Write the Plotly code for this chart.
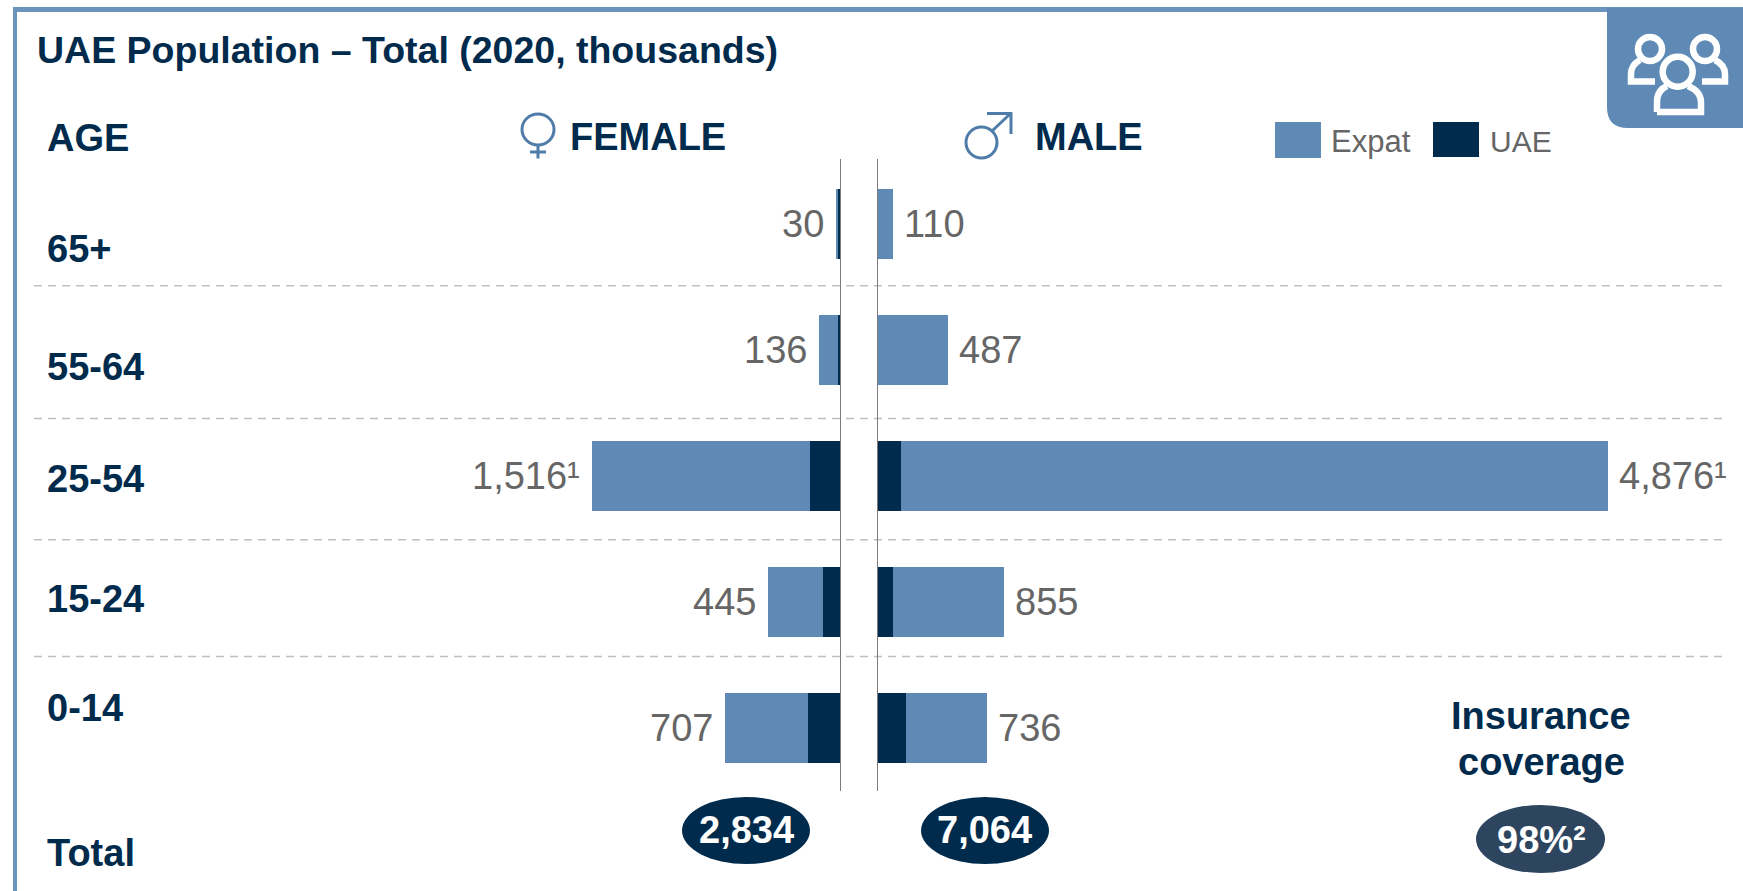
import plotly.graph_objects as go

AGES = ["0-14", "15-24", "25-54", "55-64", "65+"]
FEMALE_UAE = [200, 110, 187, 18, 24]
FEMALE_EXPAT = [507, 335, 1329, 118, 6]
MALE_UAE = [190, 107, 160, 6, 4]
MALE_EXPAT = [540, 738, 4716, 468, 102]
FEMALE_LABELS = ["707", "445", "1,516\u00b9", "136", "30"]
MALE_LABELS = ["736", "855", "4,876\u00b9", "487", "110"]
AGE_LABEL_Y = {"65+": 249, "55-64": 367, "25-54": 479, "15-24": 599, "0-14": 708}
TITLE = "UAE Population \u2013 Total (2020, thousands)"
TOTAL_FEMALE = "2,834"
TOTAL_MALE = "7,064"
COVERAGE = "98%\u00b2"

W, H = 1743, 891
BLUE = "#5F8AB5"
NAVY = "#012B4C"
GREY = "#666666"
FONT = "Liberation Sans"
AXIS_L, AXIS_R = 841.0, 877.0
SCALE_L, SCALE_R = 0.164, 0.15


def px(x):
    return x / W


def py(y):
    return 1 - y / H


def text(x, y, s, size=38, bold=True, color=NAVY, anchor="left"):
    return dict(
        x=px(x), y=py(y), xref="paper", yref="paper", text=f"<b>{s}</b>" if bold else s,
        showarrow=False, xanchor=anchor, yanchor="middle", borderpad=0, borderwidth=0,
        font=dict(family=FONT, size=size, color=color),
    )


def rect(x0, y0, x1, y1, color):
    return dict(type="rect", xref="paper", yref="paper", x0=px(x0), x1=px(x1),
                y0=py(y1), y1=py(y0), fillcolor=color, line_width=0, layer="above")


def oval(x0, y0, x1, y1, fill=None, line=None, width=0):
    return dict(type="circle", xref="paper", yref="paper", x0=px(x0), x1=px(x1),
                y0=py(y1), y1=py(y0), fillcolor=fill or "rgba(0,0,0,0)",
                line=dict(color=line or "rgba(0,0,0,0)", width=width), layer="above")


def path(points, color, width, fill=None):
    parts = []
    for p in points:
        if isinstance(p, str):
            parts.append(p)
        else:
            parts.append(f"{px(p[0]):.5f},{py(p[1]):.5f}")
    return dict(type="path", xref="paper", yref="paper", path=" ".join(parts),
                line=dict(color=color, width=width), fillcolor=fill or "rgba(0,0,0,0)",
                layer="above")


fig = go.Figure()
fig.add_bar(y=AGES, x=FEMALE_UAE, orientation="h", name="UAE", marker_color=NAVY,
            marker_line_width=0, xaxis="x", yaxis="y", width=0.56)
fig.add_bar(y=AGES, x=FEMALE_EXPAT, orientation="h", name="Expat", marker_color=BLUE,
            marker_line_width=0, xaxis="x", yaxis="y", width=0.56)
fig.add_bar(y=AGES, x=MALE_UAE, orientation="h", name="UAE", marker_color=NAVY,
            marker_line_width=0, xaxis="x2", yaxis="y", width=0.56)
fig.add_bar(y=AGES, x=MALE_EXPAT, orientation="h", name="Expat", marker_color=BLUE,
            marker_line_width=0, xaxis="x2", yaxis="y", width=0.56)

annotations = [
    text(37, 50, TITLE, size=37.5),
    text(47, 138, "AGE"),
    text(570, 137, "FEMALE"),
    text(1035, 137, "MALE"),
    text(47, 853, "Total"),
    text(1331, 142, "Expat", size=31, bold=False, color=GREY),
    text(1490, 142, "UAE", size=30, bold=False, color=GREY),
    text(1541, 716, "Insurance", anchor="center"),
    text(1541, 762, "coverage", anchor="center"),
    text(746, 830, TOTAL_FEMALE, color="white", anchor="center"),
    text(985, 830, TOTAL_MALE, color="white", anchor="center"),
    text(1541, 840, COVERAGE, color="white", anchor="center"),
]
for age, y in AGE_LABEL_Y.items():
    annotations.append(text(47, y, age))
for age, uae, expat, label in zip(AGES, FEMALE_UAE, FEMALE_EXPAT, FEMALE_LABELS):
    annotations.append(dict(x=uae + expat, y=age, xref="x", yref="y", text=label, showarrow=False,
                            xanchor="right", yanchor="middle", xshift=-10,
                            font=dict(family=FONT, size=38, color=GREY)))
for age, uae, expat, label in zip(AGES, MALE_UAE, MALE_EXPAT, MALE_LABELS):
    annotations.append(dict(x=uae + expat, y=age, xref="x2", yref="y", text=label, showarrow=False,
                            xanchor="left", yanchor="middle", xshift=9,
                            font=dict(family=FONT, size=38, color=GREY)))

shapes = []
# panel frame and tab
shapes.append(rect(13, 7, 17, H, "#6A94BC"))
shapes.append(rect(13, 7, W, 12, "#6A94BC"))
shapes.append(path(["M", (1607, 8), "L", (W, 8), "L", (W, 128), "L", (1628, 128),
                    "Q", (1607, 128), (1607, 107), "Z"], BLUE, 0, BLUE))
# people icon
WHITE = "white"
shapes.append(oval(1638, 37, 1662, 61, line=WHITE, width=6.5))
shapes.append(oval(1693, 37, 1717, 61, line=WHITE, width=6.5))
shapes.append(oval(1662.7, 56.7, 1692.7, 86.7, line=WHITE, width=6.5))
shapes.append(path(["M", (1655, 81.5), "L", (1631, 81.5), "L", (1631, 74),
                    "Q", (1631, 65), (1640, 60)], WHITE, 6.5))
shapes.append(path(["M", (1702, 81.5), "L", (1725, 81.5), "L", (1725, 74),
                    "Q", (1725, 65), (1715, 60)], WHITE, 6.5))
shapes.append(path(["M", (1657, 112), "L", (1701, 112), "L", (1701, 102),
                    "C", (1701, 94), (1695, 89), (1688, 86),
                    "M", (1667, 86), "C", (1660, 89), (1657, 94), (1657, 102), "L", (1657, 112)],
                   WHITE, 6.5))
# female symbol
SYM = "#4F7CA8"
shapes.append(oval(522, 114, 554, 145, line=SYM, width=3))
shapes.append(path(["M", (538, 145), "L", (538, 158.5), "M", (530, 152), "L", (546, 152)], SYM, 3))
# male symbol
shapes.append(oval(966, 127, 997, 158, line=SYM, width=3))
shapes.append(path(["M", (992, 131), "L", (1010, 114), "M", (987, 113.5), "L", (1011, 113.5),
                    "L", (1011, 134)], SYM, 3))
# legend swatches
shapes.append(rect(1275, 122, 1321, 158, BLUE))
shapes.append(rect(1433, 122, 1479, 157, NAVY))
# ovals
shapes.append(oval(682, 797, 810, 864, fill=NAVY))
shapes.append(oval(921, 797, 1049, 864, fill=NAVY))
shapes.append(oval(1476, 805, 1605, 873, fill="#2E4560"))
# dashed separators
for y in (285.7, 418.5, 539.7, 656.4):
    shapes.append(dict(type="line", xref="paper", yref="paper", x0=px(34), x1=px(1723),
                       y0=py(y), y1=py(y), layer="below",
                       line=dict(color="#BFBFBF", width=1.5, dash="8px,6px")))
# central axis lines
for xr in ("x", "x2"):
    shapes.append(dict(type="line", xref=xr, yref="paper", x0=0, x1=0, y0=py(791), y1=py(159),
                       layer="above", line=dict(color="#7A7A7A", width=2)))

fig.update_layout(
    width=W, height=H, autosize=False, margin=dict(l=0, r=0, t=0, b=0, pad=0),
    paper_bgcolor="white", plot_bgcolor="white", barmode="stack", bargap=0.44,
    showlegend=False, hovermode=False, annotations=annotations, shapes=shapes,
    font=dict(family=FONT),
    xaxis=dict(domain=[0, px(AXIS_L)], range=[AXIS_L / SCALE_L, 0], visible=False, anchor="y"),
    xaxis2=dict(domain=[px(AXIS_R), 1], range=[0, (W - AXIS_R) / SCALE_R], visible=False, anchor="y"),
    yaxis=dict(domain=[0, 1], type="category", categoryorder="array", categoryarray=AGES,
               range=[(728 - H) / 126, 728 / 126], visible=False, anchor="x"),
)
fig.write_html("out.html", config=dict(displayModeBar=False),
               post_script="document.body.style.margin='0';document.documentElement.style.overflow='hidden';")
